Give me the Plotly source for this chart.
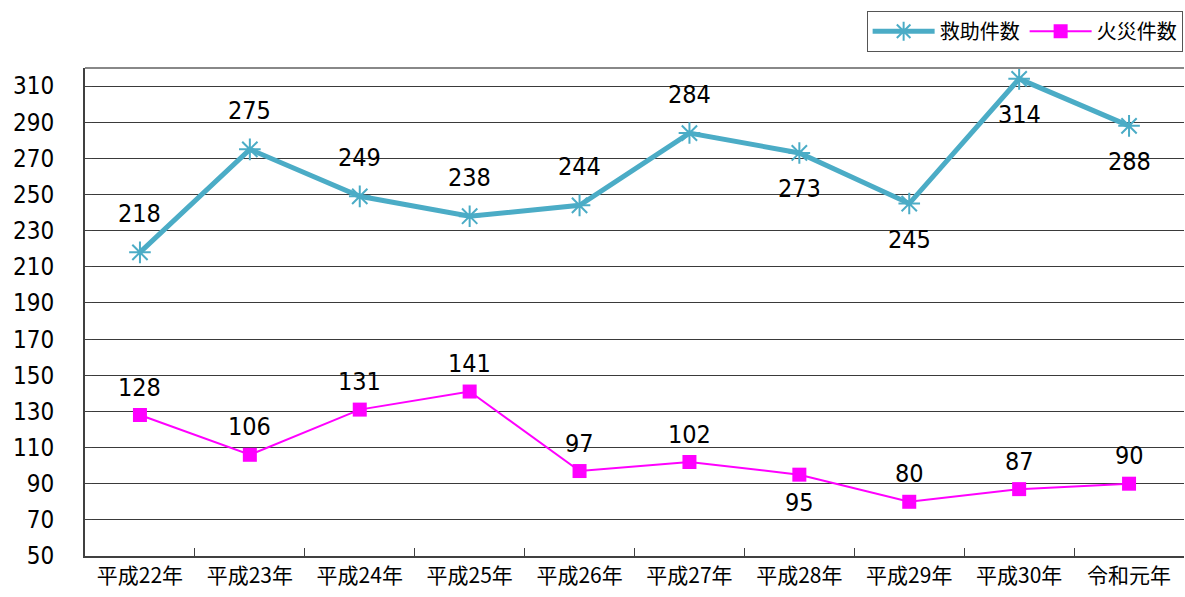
import plotly.graph_objects as go

categories = ["平成22年", "平成23年", "平成24年", "平成25年", "平成26年",
              "平成27年", "平成28年", "平成29年", "平成30年", "令和元年"]
rescue = [218, 275, 249, 238, 244, 284, 273, 245, 314, 288]
fire = [128, 106, 131, 141, 97, 102, 95, 80, 87, 90]
rescue_label_side = ["up", "up", "up", "up", "up", "up", "down", "down", "down", "down"]
fire_label_side = ["up", "up", "up", "up", "up", "up", "down", "up", "up", "up"]
y_ticks = list(range(50, 320, 20))

BLUE = "#4BACC6"
PINK = "#FF00FF"
NUM_FONT = "DejaVu Sans Condensed, Liberation Sans Narrow, sans-serif"
JP_FONT = "Noto Sans CJK JP, sans-serif"

fig = go.Figure()
fig.add_trace(go.Scatter(
    x=categories, y=rescue, name="救助件数", mode="lines+markers",
    line=dict(color=BLUE, width=5),
    marker=dict(symbol="asterisk-open", size=18, color=BLUE, line=dict(color=BLUE, width=2)),
))
fig.add_trace(go.Scatter(
    x=categories, y=fire, name="火災件数", mode="lines+markers",
    line=dict(color=PINK, width=2),
    marker=dict(symbol="square", size=14, color=PINK),
))

annotations = []
for cat, v, side in zip(categories, rescue, rescue_label_side):
    annotations.append(dict(x=cat, y=v, text=str(v), showarrow=False,
                            yshift=39 if side == "up" else -36,
                            font=dict(family=NUM_FONT, size=25, color="black")))
for cat, v, side in zip(categories, fire, fire_label_side):
    annotations.append(dict(x=cat, y=v, text=str(v), showarrow=False,
                            yshift=28 if side == "up" else -28,
                            font=dict(family=NUM_FONT, size=25, color="black")))

fig.update_layout(
    width=1185, height=597,
    margin=dict(l=85, r=1, t=68, b=41, autoexpand=False),
    paper_bgcolor="white", plot_bgcolor="white",
    showlegend=True,
    legend=dict(orientation="h", xref="container", yref="container",
                x=0.998, xanchor="right", y=0.982, yanchor="top",
                bordercolor="#555555", borderwidth=1, bgcolor="white",
                font=dict(family=JP_FONT, size=20, color="black"),
                itemwidth=62, tracegroupgap=0),
    annotations=annotations,
)
fig.update_xaxes(
    range=[-0.5, len(categories) - 0.5],
    showgrid=False, showline=True, linecolor="#404040", linewidth=2,
    ticks="inside", ticklen=8, tickcolor="#404040", tickson="boundaries",
    tickfont=dict(family=JP_FONT, size=21, color="black"),
    automargin=False,
)
fig.update_yaxes(
    range=[50, 320], tickmode="array", tickvals=y_ticks,
    showgrid=True, gridcolor="#3a3a3a", gridwidth=1,
    showline=True, linecolor="#404040", linewidth=2,
    ticks="inside", ticklen=7, tickcolor="#404040",
    ticklabelstandoff=24,
    tickfont=dict(family=NUM_FONT, size=24, color="black"),
    zeroline=False, automargin=False,
)
fig.add_shape(type="line", xref="paper", yref="paper", x0=0, x1=1, y0=1, y1=1,
              line=dict(color="#888888", width=2))

fig.write_html("out.html", config={"displayModeBar": False},
               post_script="document.body.style.margin='0px';document.body.style.overflow='hidden';")
